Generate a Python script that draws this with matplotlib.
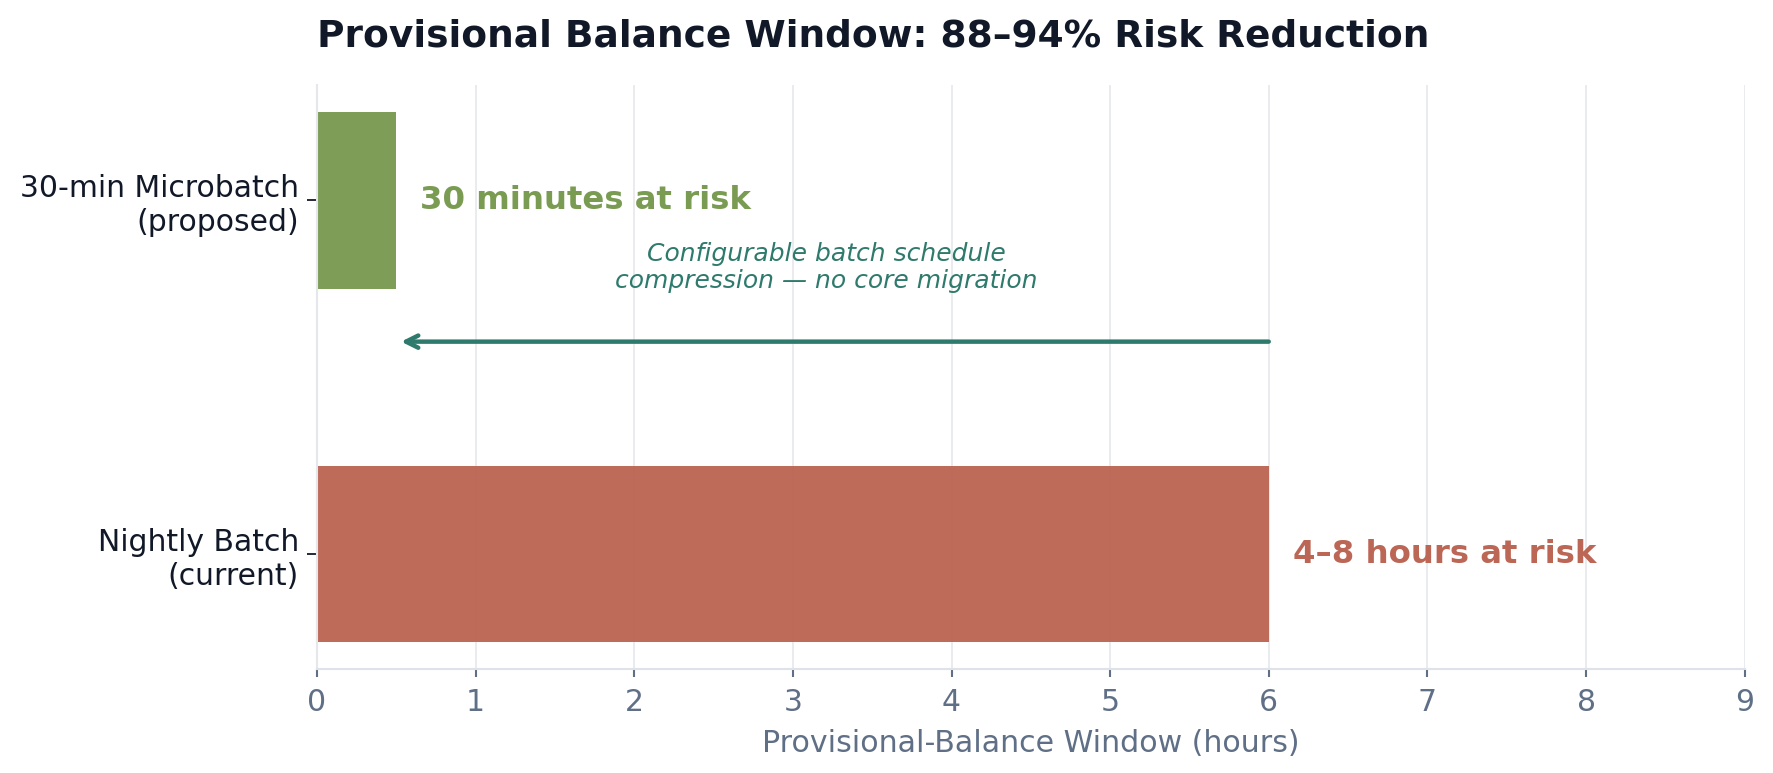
import matplotlib
matplotlib.use("Agg")
import matplotlib.pyplot as plt

# data
categories = ["Nightly Batch\n(current)", "30-min Microbatch\n(proposed)"]
window_hours = [6.0, 0.5]
bar_labels = ["4–8 hours at risk", "30 minutes at risk"]
bar_colors = ["#bc6655", "#7a9b52"]
x_ticks = list(range(0, 10))

arrow_from = 6.0
arrow_to = 0.53
arrow_y = 0.6
note = "Configurable batch schedule\ncompression — no core migration"

TEAL = "#2e7a6c"
SLATE = "#5f6f86"
INK = "#111827"

fig = plt.figure(figsize=(17.73, 7.73), dpi=100)
ax = fig.add_axes([0.1788, 0.1345, 0.8052, 0.7555])

ypos = list(range(len(categories)))
ax.barh(ypos, window_hours, height=0.5, color=bar_colors, alpha=0.97, zorder=2)

for y, w, lab, c in zip(ypos, window_hours, bar_labels, bar_colors):
    ax.text(w + 0.15, y, lab, va="center", ha="left", fontsize=23.3,
            fontweight="bold", color=c, zorder=3)

ax.annotate("", xy=(arrow_to, arrow_y), xytext=(arrow_from, arrow_y),
            arrowprops=dict(arrowstyle="->", color=TEAL, lw=3.2,
                            mutation_scale=22, shrinkA=0, shrinkB=0),
            zorder=3)
ax.text(3.21, 0.81, note, ha="center", va="center",
        fontsize=18, style="italic", color=TEAL, linespacing=1.15)

ax.set_xlim(0, 9)
ax.set_xticks(x_ticks)
ax.set_yticks(ypos)
ax.set_yticklabels(categories, fontsize=21.5, color=INK)
ax.tick_params(axis="x", labelsize=21.5, colors=SLATE, length=6, width=1.5, pad=8)
ax.tick_params(axis="y", length=7, width=1.3, color=INK, pad=6)
ax.set_xlabel("Provisional-Balance Window (hours)", fontsize=21.6, color=SLATE,
              labelpad=8)

ax.grid(axis="x", color="#e5e7eb", linewidth=1.2, zorder=0)
ax.set_axisbelow(True)
for s in ["top", "right"]:
    ax.spines[s].set_visible(False)
ax.spines["left"].set_color("#e5e7eb")
ax.spines["bottom"].set_color("#dfe2e8")
ax.spines["left"].set_linewidth(1.5)
ax.spines["bottom"].set_linewidth(1.5)

ax.set_title("Provisional Balance Window: 88–94% Risk Reduction", loc="left",
             fontsize=27, fontweight="bold", color=INK, pad=28)

fig.savefig("out.png", dpi=100)
